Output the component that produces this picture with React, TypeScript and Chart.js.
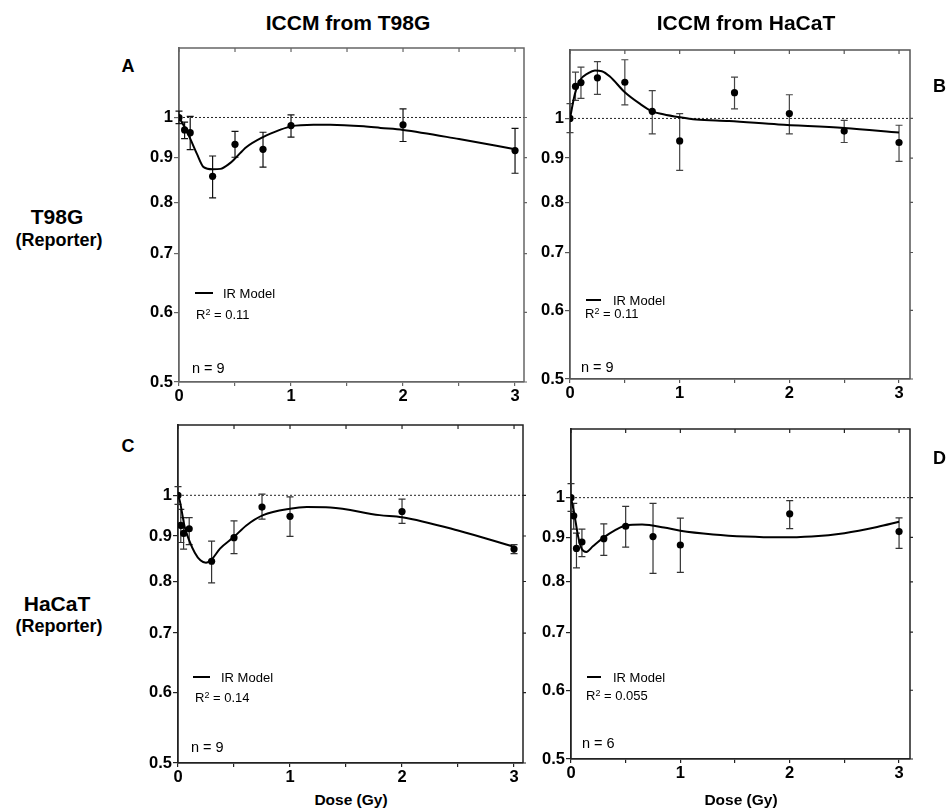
import React, { useEffect, useRef } from 'react';
import { Chart, registerables } from 'chart.js';

Chart.register(...registerables);

// ---- shared axis data ----
const yTickValues = [0.5, 0.6, 0.7, 0.8, 0.9, 1];
const yTickLabels = ['0.5', '0.6', '0.7', '0.8', '0.9', '1'];
const xTickValues = [0, 0.5, 1, 1.5, 2, 2.5, 3];
const xTickLabels = ['0', '', '1', '', '2', '', '3'];
const yMin = 0.5;
const yMax = 1.2;
const refLevel = 1;

// ---- Panel A: T98G reporter, ICCM from T98G ----
const doseA = [0, 0.05, 0.1, 0.3, 0.5, 0.75, 1, 2, 3];
const meanA = [1.0, 0.968, 0.961, 0.857, 0.932, 0.92, 0.979, 0.981, 0.917];
const lowA = [0.984, 0.946, 0.919, 0.81, 0.901, 0.878, 0.95, 0.939, 0.864];
const highA = [1.017, 0.988, 1.003, 0.904, 0.964, 0.962, 1.007, 1.023, 0.972];
const curveXA = [0, 0.05, 0.1, 0.16, 0.22, 0.3, 0.37, 0.45, 0.5, 0.6, 0.75, 0.9, 1.0, 1.2, 1.35, 1.65, 1.8, 2.0, 2.5, 3.0];
const curveYA = [1.0, 0.975, 0.946, 0.909, 0.878, 0.873, 0.874, 0.886, 0.898, 0.925, 0.95, 0.968, 0.977, 0.981, 0.981, 0.977, 0.973, 0.968, 0.945, 0.92];

// ---- Panel B: T98G reporter, ICCM from HaCaT ----
const doseB = [0, 0.05, 0.1, 0.25, 0.5, 0.75, 1, 1.5, 2, 2.5, 3];
const meanB = [1.0, 1.089, 1.1, 1.114, 1.101, 1.019, 0.942, 1.071, 1.013, 0.967, 0.938];
const lowB = [0.963, 1.049, 1.055, 1.066, 1.037, 0.96, 0.871, 1.026, 0.96, 0.938, 0.892];
const highB = [1.04, 1.131, 1.146, 1.163, 1.169, 1.077, 1.013, 1.116, 1.065, 0.995, 0.982];
const curveXB = [0, 0.045, 0.09, 0.167, 0.227, 0.29, 0.364, 0.5, 0.636, 0.75, 0.85, 1.0, 1.15, 1.45, 1.9, 2.5, 3.0];
const curveYB = [1.0, 1.068, 1.106, 1.128, 1.136, 1.134, 1.118, 1.072, 1.04, 1.019, 1.011, 1.003, 0.997, 0.993, 0.984, 0.975, 0.963];

// ---- Panel C: HaCaT reporter, ICCM from T98G ----
const doseC = [0, 0.025, 0.05, 0.1, 0.3, 0.5, 0.75, 1, 2, 3];
const meanC = [1.0, 0.925, 0.906, 0.917, 0.843, 0.896, 0.97, 0.947, 0.959, 0.87];
const lowC = [0.977, 0.885, 0.87, 0.88, 0.797, 0.86, 0.94, 0.899, 0.93, 0.86];
const highC = [1.023, 0.964, 0.944, 0.944, 0.888, 0.936, 1.003, 0.996, 0.99, 0.88];
const curveXC = [0, 0.015, 0.06, 0.1, 0.15, 0.2, 0.25, 0.3, 0.375, 0.5, 0.61, 0.76, 1.0, 1.15, 1.36, 1.8, 2.0, 2.5, 3.0];
const curveYC = [1.0, 0.987, 0.921, 0.89, 0.862, 0.845, 0.84, 0.847, 0.871, 0.898, 0.925, 0.95, 0.966, 0.97, 0.969, 0.95, 0.945, 0.913, 0.875];

// ---- Panel D: HaCaT reporter, ICCM from HaCaT ----
const doseD = [0, 0.025, 0.05, 0.1, 0.3, 0.5, 0.75, 1, 2, 3];
const meanD = [1.0, 0.953, 0.874, 0.889, 0.897, 0.927, 0.902, 0.882, 0.958, 0.914];
const lowD = [0.964, 0.92, 0.83, 0.855, 0.858, 0.877, 0.818, 0.82, 0.921, 0.874];
const highD = [1.038, 0.985, 0.91, 0.92, 0.933, 0.977, 0.985, 0.947, 0.992, 0.948];
const curveXD = [0, 0.03, 0.067, 0.1, 0.14, 0.2, 0.3, 0.4, 0.5, 0.65, 0.85, 1.0, 1.3, 1.6, 1.9, 2.2, 2.5, 2.8, 3.0];
const curveYD = [1.0, 0.958, 0.9, 0.872, 0.866, 0.879, 0.9, 0.917, 0.929, 0.931, 0.924, 0.916, 0.907, 0.902, 0.9, 0.902, 0.91, 0.925, 0.938];

const FONT = "'Liberation Sans', Arial, Helvetica, sans-serif";

type PanelDef = {
  key: string;
  area: [number, number, number, number]; // left, top, right, bottom of plot area
  xMax: number;
  dose: number[];
  mean: number[];
  low: number[];
  high: number[];
  curveX: number[];
  curveY: number[];
  axisColor: string;
  barColor: string;
  r2: string;
  n: string;
};

const panels: PanelDef[] = [
  { key: 'A', area: [179, 47, 524, 382], xMax: 3.08, dose: doseA, mean: meanA, low: lowA, high: highA, curveX: curveXA, curveY: curveYA, axisColor: '#666', barColor: '#111', r2: '0.11', n: '9' },
  { key: 'B', area: [570, 49, 910, 379], xMax: 3.1, dose: doseB, mean: meanB, low: lowB, high: highB, curveX: curveXB, curveY: curveYB, axisColor: '#555', barColor: '#444', r2: '0.11', n: '9' },
  { key: 'C', area: [178, 424, 523, 763], xMax: 3.08, dose: doseC, mean: meanC, low: lowC, high: highC, curveX: curveXC, curveY: curveYC, axisColor: '#222', barColor: '#333', r2: '0.14', n: '9' },
  { key: 'D', area: [571, 428, 910, 759], xMax: 3.1, dose: doseD, mean: meanD, low: lowD, high: highD, curveX: curveXD, curveY: curveYD, axisColor: '#222', barColor: '#333', r2: '0.055', n: '6' },
];

const Y_AXIS_W = 40;
const X_AXIS_H = 25;
const PAD_T = 10;
const PAD_R = 10;

function Panel({ p }: { p: PanelDef }) {
  const ref = useRef<HTMLCanvasElement | null>(null);
  const [L, T, R, B] = p.area;
  const width = R - L + Y_AXIS_W + PAD_R;
  const height = B - T + PAD_T + X_AXIS_H;

  useEffect(() => {
    if (!ref.current) return;
    const errorBars = {
      id: 'errorBars' + p.key,
      beforeDatasetsDraw(chart: any) {
        const { ctx } = chart;
        const xs = chart.scales.x;
        const ys = chart.scales.y;
        ctx.save();
        ctx.strokeStyle = p.barColor;
        ctx.lineWidth = 1.2;
        p.dose.forEach((d, i) => {
          const px = xs.getPixelForValue(d);
          const pl = ys.getPixelForValue(p.low[i]);
          const ph = ys.getPixelForValue(p.high[i]);
          ctx.beginPath();
          ctx.moveTo(px, pl);
          ctx.lineTo(px, ph);
          ctx.moveTo(px - 3.5, pl);
          ctx.lineTo(px + 3.5, pl);
          ctx.moveTo(px - 3.5, ph);
          ctx.lineTo(px + 3.5, ph);
          ctx.stroke();
        });
        ctx.restore();
      },
    };
    const frame = {
      id: 'frame' + p.key,
      afterDraw(chart: any) {
        const { ctx, chartArea } = chart;
        const xs = chart.scales.x;
        const ys = chart.scales.y;
        ctx.save();
        ctx.strokeStyle = p.axisColor;
        ctx.lineWidth = 1.5;
        ctx.beginPath();
        ctx.moveTo(chartArea.left, chartArea.top);
        ctx.lineTo(chartArea.right, chartArea.top);
        ctx.lineTo(chartArea.right, chartArea.bottom);
        ctx.stroke();
        ctx.lineWidth = 1.2;
        ctx.beginPath();
        xTickValues.forEach((v) => {
          const px = xs.getPixelForValue(v);
          ctx.moveTo(px, chartArea.top);
          ctx.lineTo(px, chartArea.top + 4);
        });
        yTickValues.forEach((v) => {
          const py = ys.getPixelForValue(v);
          ctx.moveTo(chartArea.right, py);
          ctx.lineTo(chartArea.right + 3, py);
        });
        ctx.stroke();
        ctx.restore();
      },
    };

    const tickFont = { family: FONT, size: 16.5, weight: 'bold' as const };
    const chart = new Chart(ref.current, {
      type: 'line',
      data: {
        datasets: [
          {
            label: 'data',
            data: p.dose.map((d, i) => ({ x: d, y: p.mean[i] })),
            showLine: false,
            pointRadius: 3.6,
            pointBackgroundColor: '#000',
            pointBorderWidth: 0,
            borderColor: '#000',
          },
          {
            label: 'IR Model',
            data: p.curveX.map((d, i) => ({ x: d, y: p.curveY[i] })),
            borderColor: '#000',
            borderWidth: 2,
            pointRadius: 0,
            cubicInterpolationMode: 'monotone',
            fill: false,
          },
          {
            label: 'ref',
            data: [
              { x: 0, y: refLevel },
              { x: p.xMax, y: refLevel },
            ],
            borderColor: '#222',
            borderWidth: 1,
            borderDash: [2, 2],
            pointRadius: 0,
            fill: false,
          },
        ],
      },
      options: {
        animation: false,
        responsive: false,
        maintainAspectRatio: false,
        layout: { padding: { top: PAD_T, right: PAD_R, left: 0, bottom: 0 } },
        plugins: { legend: { display: false }, tooltip: { enabled: false } },
        scales: {
          x: {
            type: 'linear',
            min: 0,
            max: p.xMax,
            afterBuildTicks: (s: any) => {
              s.ticks = xTickValues.map((v) => ({ value: v }));
            },
            afterFit: (s: any) => {
              s.height = X_AXIS_H;
            },
            ticks: {
              autoSkip: false,
              maxRotation: 0,
              padding: 1,
              color: '#000',
              font: tickFont,
              callback: (_v: any, i: number) => xTickLabels[i] ?? '',
            },
            grid: { drawOnChartArea: false, drawTicks: true, tickLength: 4, color: p.axisColor, lineWidth: 1.2 },
            border: { display: true, color: p.axisColor, width: 1.8 },
          },
          y: {
            type: 'logarithmic',
            min: yMin,
            max: yMax,
            afterBuildTicks: (s: any) => {
              s.ticks = yTickValues.map((v) => ({ value: v }));
            },
            afterFit: (s: any) => {
              s.width = Y_AXIS_W;
            },
            ticks: {
              autoSkip: false,
              padding: 1,
              color: '#000',
              font: tickFont,
              callback: (_v: any, i: number) => yTickLabels[i] ?? '',
            },
            grid: { drawOnChartArea: false, drawTicks: true, tickLength: 5, color: p.axisColor, lineWidth: 1.2 },
            border: { display: true, color: p.axisColor, width: 1.8 },
          },
        },
      },
      plugins: [errorBars, frame],
    } as any);
    return () => chart.destroy();
  }, [p]);

  return (
    <div style={{ position: 'absolute', left: L - Y_AXIS_W, top: T - PAD_T, width, height }}>
      <canvas ref={ref} width={width} height={height} style={{ display: 'block', width, height }} />
    </div>
  );
}

const txt = (extra: React.CSSProperties): React.CSSProperties => ({
  position: 'absolute',
  whiteSpace: 'nowrap',
  fontFamily: FONT,
  color: '#000',
  lineHeight: 1,
  ...extra,
});

const centered = (x: number, y: number, size: number, bold = true): React.CSSProperties =>
  txt({ left: x, top: y, transform: 'translate(-50%, -50%)', fontSize: size, fontWeight: bold ? 'bold' : 'normal' });

const leftMid = (x: number, y: number, size: number, bold = false): React.CSSProperties =>
  txt({ left: x, top: y, transform: 'translate(0, -50%)', fontSize: size, fontWeight: bold ? 'bold' : 'normal' });

// annotation layout (page coordinates) per panel
const annot = [
  { line: [195, 213, 293], text: 223, r2: [196, 314], n: [192, 368] },
  { line: [586, 601, 300], text: 613, r2: [585, 313], n: [581, 367] },
  { line: [193, 210, 677], text: 221, r2: [195, 697], n: [191, 747] },
  { line: [587, 601, 677], text: 613, r2: [586, 695], n: [582, 743] },
];

export default function App() {
  return (
    <div style={{ position: 'absolute', left: 0, top: 0, width: 948, height: 811, background: '#fff', overflow: 'hidden' }}>
      {panels.map((p) => (
        <Panel key={p.key} p={p} />
      ))}

      <div style={centered(348, 22, 21)}>ICCM from T98G</div>
      <div style={centered(746, 22, 21)}>ICCM from HaCaT</div>

      <div style={centered(128, 66, 18)}>A</div>
      <div style={leftMid(933, 86, 18, true)}>B</div>
      <div style={centered(128, 446, 18)}>C</div>
      <div style={leftMid(933, 458, 18, true)}>D</div>

      <div style={centered(57, 216, 21)}>T98G</div>
      <div style={centered(59, 240, 18)}>(Reporter)</div>
      <div style={centered(57, 603, 21)}>HaCaT</div>
      <div style={centered(59, 626, 18)}>(Reporter)</div>

      <div style={centered(351, 800, 15.5)}>Dose (Gy)</div>
      <div style={centered(741, 800, 15.5)}>Dose (Gy)</div>

      {panels.map((p, i) => {
        const a = annot[i];
        return (
          <React.Fragment key={'ann' + p.key}>
            <div style={{ position: 'absolute', left: a.line[0], top: a.line[2] - 1, width: a.line[1] - a.line[0], height: 1.6, background: '#000' }} />
            <div style={leftMid(a.text, a.line[2], 13)}>IR Model</div>
            <div style={leftMid(a.r2[0], a.r2[1], 13)}>
              R<sup style={{ fontSize: 9, verticalAlign: 'top', lineHeight: 1 }}>2</sup> = {p.r2}
            </div>
            <div style={leftMid(a.n[0], a.n[1], 14.5)}>n = {p.n}</div>
          </React.Fragment>
        );
      })}
    </div>
  );
}
